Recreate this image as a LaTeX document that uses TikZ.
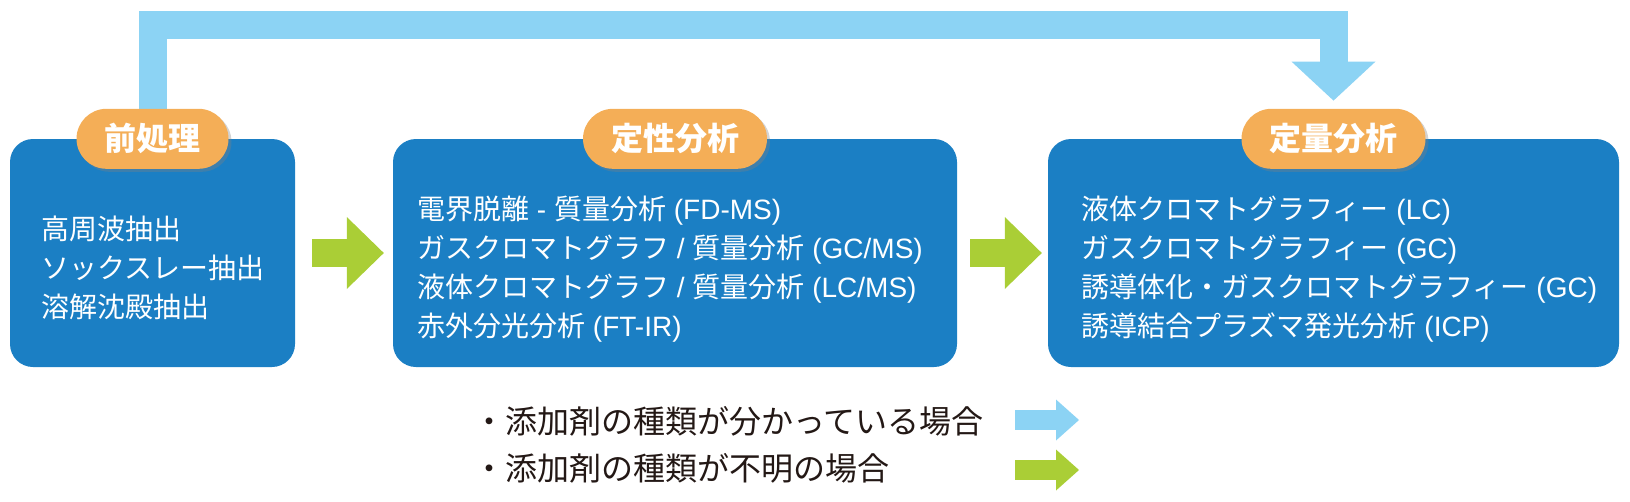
\documentclass[tikz,border=0pt]{standalone}
\usepackage{fontspec}
\setmainfont{Liberation Sans}
\newfontfamily\jp{Noto Sans CJK JP}
\newcommand\jtxt[1]{{\jp#1}}
\usepackage{tikz}
\usetikzlibrary{arrows.meta,positioning,shadows,backgrounds}
\definecolor{boxc}{HTML}{1B7FC4}
\definecolor{pillc}{HTML}{F4AE57}
\definecolor{skyc}{HTML}{8CD3F4}
\definecolor{leafc}{HTML}{AACE36}
\definecolor{inkc}{HTML}{231815}
\tikzset{
  box/.style={fill=boxc,rounded corners=23pt,minimum height=228pt,inner sep=0pt},
  pill/.style={fill=pillc,rounded corners=30pt,minimum height=60pt,inner xsep=28pt,inner ysep=0pt,text=white,
    font=\jp\fontsize{32}{32}\selectfont\bfseries,drop shadow={opacity=0.35,shadow xshift=3pt,shadow yshift=-3pt}},
  txt/.style={text=white,align=left,anchor=west,inner sep=0pt,font=\fontsize{28}{39}\selectfont},
  gar/.style={leafc,line width=28pt,-{Triangle[length=37pt,width=72pt,line width=0pt]}},
  bar/.style={skyc,line width=28pt,-{Triangle[length=39pt,width=84pt,line width=0pt]}},
  leg/.style={line width=20pt,-{Triangle[length=23pt,width=41pt,line width=0pt]}},
  key/.style={text=inkc,anchor=west,inner sep=0pt,font=\jp\fontsize{32}{32}\selectfont}
}
\begin{document}
\begin{tikzpicture}[x=1pt,y=-1pt]
\useasboundingbox (0,0) rectangle (1630,501);
% three stages
\node[box,minimum width=285pt] (box1) at (152.5,253) {};
\node[box,minimum width=564pt] (box2) at (675,253) {};
\node[box,minimum width=571pt] (box3) at (1333.5,253) {};
\node[pill] (lab1) at (box1.north) {前処理};
\node[pill] (lab2) at (box2.north) {定性分析};
\node[pill] (lab3) at (box3.north) {定量分析};
\node[txt] (t1) at (41,268) {\jtxt{高周波抽出}\\\jtxt{ソックスレー抽出}\\\jtxt{溶解沈殿抽出}};
\node[txt] (t2) at (417,269) {\jtxt{電界脱離} - \jtxt{質量分析} (FD-MS)\\
  \jtxt{ガスクロマトグラフ} / \jtxt{質量分析} (GC/MS)\\
  \jtxt{液体クロマトグラフ} / \jtxt{質量分析} (LC/MS)\\
  \jtxt{赤外分光分析} (FT-IR)};
\node[txt] (t3) at (1081,269) {\jtxt{液体クロマトグラフィー} (LC)\\
  \jtxt{ガスクロマトグラフィー} (GC)\\
  \jtxt{誘導体化・ガスクロマトグラフィー} (GC)\\
  \jtxt{誘導結合プラズマ発光分析} (ICP)};
% arrows between boxes
\draw[gar,shorten <=17pt,shorten >=9pt] (box1.east) -- (box2.west);
\draw[gar,shorten <=13pt,shorten >=6pt] (box2.east) -- (box3.west);
% skip path on top
\coordinate (ctop) at (0,25);
\begin{scope}[on background layer]
\draw[bar,shorten >=8pt] (lab1.north) |- (ctop -| lab3.north) -- (lab3.north);
\end{scope}
% legend
\node[key] (k1) at (473,421) {・添加剤の種類が分かっている場合};
\node[key] (k2) at (473,468) {・添加剤の種類が不明の場合};
\draw[leg,skyc] (1015,420) -- (1079,420);
\draw[leg,leafc] (1015,470) -- (1079,470);
\end{tikzpicture}
\end{document}
